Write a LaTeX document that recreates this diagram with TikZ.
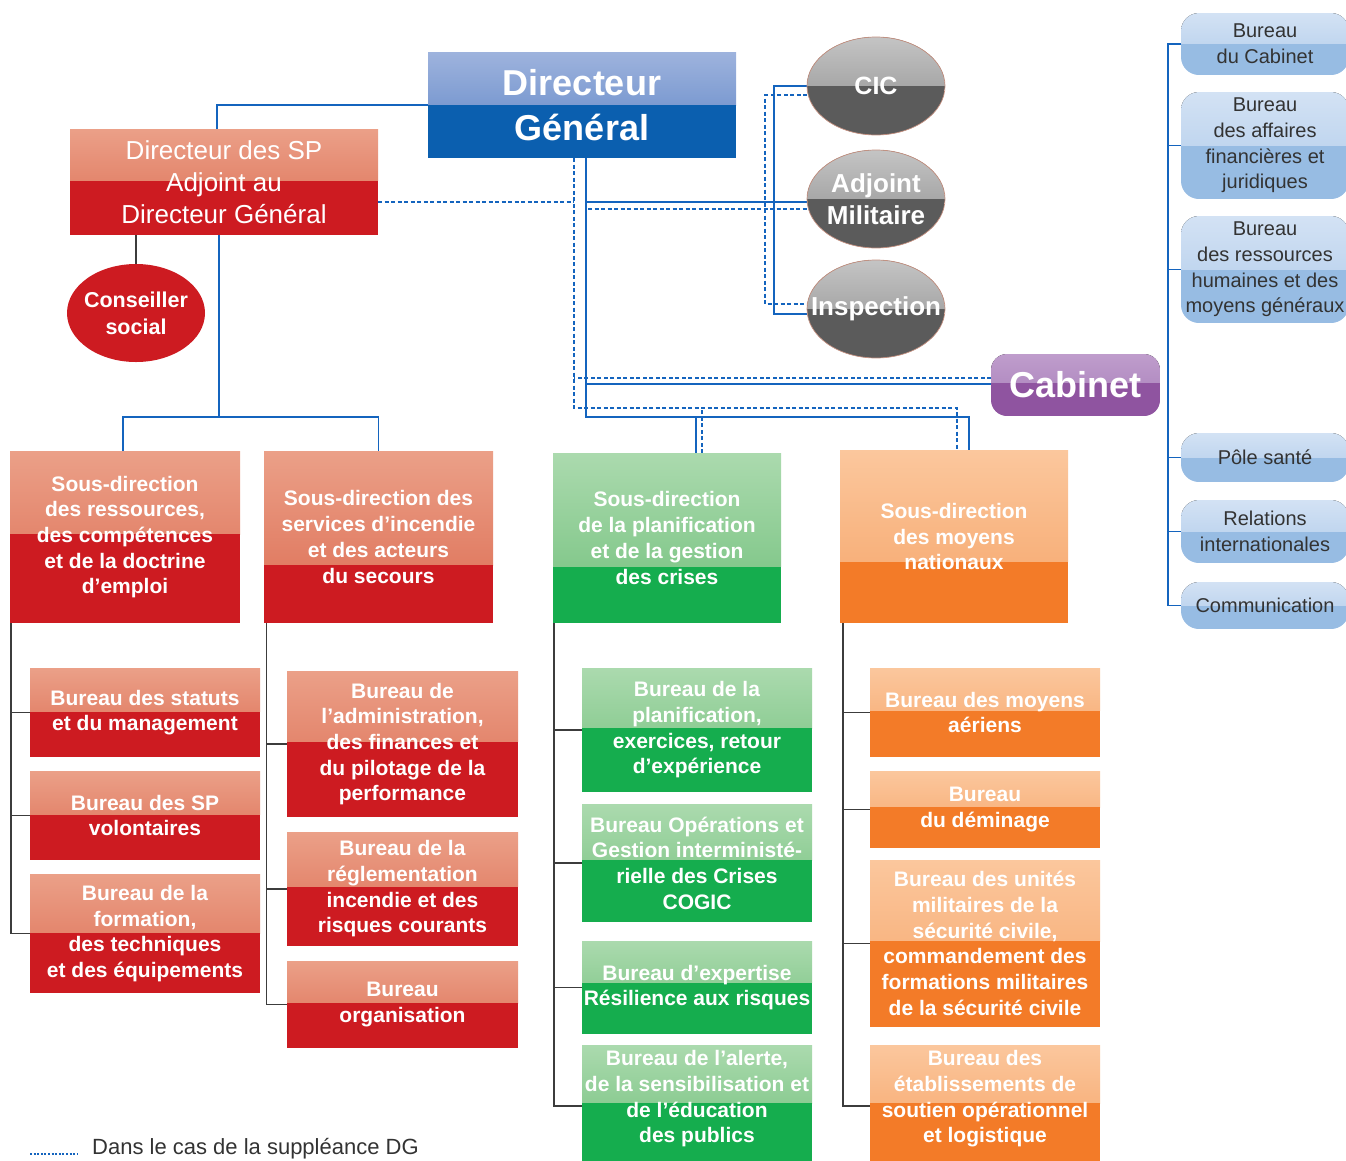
\documentclass[tikz,border=0pt]{standalone}
\usepackage{fontspec}
\setmainfont{Liberation Sans}
\usetikzlibrary{calc,shapes.geometric}
\pgfdeclarelayer{bg}
\pgfsetlayers{bg,main}
\definecolor{redT}{HTML}{EBA088}
\definecolor{redM}{HTML}{DC6B51}
\definecolor{redB}{HTML}{CD1B21}
\definecolor{greenT}{HTML}{ABDAAE}
\definecolor{greenM}{HTML}{72C07C}
\definecolor{greenB}{HTML}{15AD4E}
\definecolor{orangeT}{HTML}{FBC79D}
\definecolor{orangeM}{HTML}{F6A468}
\definecolor{orangeB}{HTML}{F37B28}
\definecolor{blueT}{HTML}{9EB3DD}
\definecolor{blueM}{HTML}{5A82C5}
\definecolor{blueB}{HTML}{0B5FAF}
\definecolor{greyT}{HTML}{C4C4C4}
\definecolor{greyM}{HTML}{8B8B8B}
\definecolor{greyB}{HTML}{5B5B5B}
\definecolor{purpleT}{HTML}{BF9DCC}
\definecolor{purpleM}{HTML}{A67CB8}
\definecolor{purpleB}{HTML}{8F54A0}
\definecolor{lightT}{HTML}{D3E2F4}
\definecolor{lightM}{HTML}{AECAEA}
\definecolor{lightB}{HTML}{97BCE3}
\definecolor{lineblue}{HTML}{1464BE}
\definecolor{linek}{HTML}{3C3C3C}
\definecolor{txtg}{HTML}{333333}
\definecolor{edgec}{HTML}{C49080}
\tikzset{
  gcut/.code={\gdef\gcut{#1}},
  scheme/.code args={#1/#2/#3}{\gdef\gT{#1}\gdef\gM{#2}\gdef\gB{#3}},
  gfill/.style={inner sep=0pt, outer sep=0pt, path picture={
    \fill[sharp corners, top color=\gT, bottom color=\gM] (path picture bounding box.north west) rectangle ($(path picture bounding box.north east)!\gcut!(path picture bounding box.south east)$);
    \fill[sharp corners, \gB] ($(path picture bounding box.north west)!\gcut!(path picture bounding box.south west)$) rectangle (path picture bounding box.south east);}},
  sred/.style={scheme=redT/redM/redB},
  sgreen/.style={scheme=greenT/greenM/greenB},
  sorange/.style={scheme=orangeT/orangeM/orangeB},
  sblue/.style={scheme=blueT/blueM/blueB},
  sgrey/.style={scheme=greyT/greyM/greyB},
  spurple/.style={scheme=purpleT/purpleM/purpleB},
  slight/.style={scheme=lightT/lightM/lightB},
}
\begin{document}
\begin{tikzpicture}[x=1pt,y=-1pt,
  bl/.style={draw=lineblue, line width=1.6pt},
  dl/.style={draw=lineblue, line width=1.3pt, dash pattern=on 4pt off 2.5pt},
  kl/.style={draw=linek, line width=1.4pt},
  bx/.style={rectangle, gfill, text=white, align=center, font=\fontsize{21}{25.7}\selectfont\bfseries},
  rbx/.style={rectangle, gfill, slight, gcut=0.5, rounded corners=18pt, minimum width=168, text=txtg, align=center, font=\fontsize{20}{25.7}\selectfont},
  gell/.style={ellipse, gfill, sgrey, gcut=0.5, draw=edgec, line width=0.7pt, minimum width=138, minimum height=98},
  etxt/.style={text=white, align=center, inner sep=0pt, font=\fontsize{26}{32}\selectfont\bfseries}
]
\useasboundingbox (0,0) rectangle (1346,1160);
\clip (0,0) rectangle (1346,1160);

% top level
\node[bx, sblue, gcut=0.5, minimum width=308, minimum height=106, font=\fontsize{36}{45}\selectfont\bfseries] (dg) at (582,105) {Directeur\\Général};
\node[bx, sred, gcut=0.49, minimum width=308, minimum height=106, font=\fontsize{26}{32}\selectfont] (dsp) at (224,182) {Directeur des SP\\Adjoint au\\Directeur Général};
\node[ellipse, fill=redB, minimum width=138, minimum height=98, inner sep=0pt] (cs) at (136,313) {};
\node[etxt, font=\fontsize{21.5}{27}\selectfont\bfseries] at (cs) {Conseiller\\social};

\node[gell] (cic) at (876,86) {};
\node[etxt, font=\fontsize{25}{30}\selectfont\bfseries] at (cic) {CIC};
\node[gell] (am) at (876,199) {};
\node[etxt] at (am) {Adjoint\\Militaire};
\node[gell] (insp) at (876,309) {};
\node[etxt] at (insp) {Inspection};

\node[bx, spurple, gcut=0.47, rounded corners=16pt, minimum width=169, minimum height=62, font=\fontsize{36}{40}\selectfont\bfseries] (cab) at (1075.5,385) {Cabinet};

% right column
\node[rbx, minimum height=62] (rb1) at (1265,44) {Bureau\\du Cabinet};
\node[rbx, minimum height=107] (rb2) at (1265,145.5) {Bureau\\des affaires\\financières et\\juridiques};
\node[rbx, minimum height=107] (rb3) at (1265,269.5) {Bureau\\des ressources\\humaines et des\\moyens généraux};
\node[rbx, minimum height=49] (rps) at (1265,457.5) {Pôle santé};
\node[rbx, minimum height=63] (rri) at (1265,531.5) {Relations\\internationales};
\node[rbx, minimum height=47] (rcom) at (1265,605.5) {Communication};

% sous-directions
\node[bx, sred, gcut=0.483, minimum width=230, minimum height=172] (sd1) at (125,537) {Sous-direction\\des ressources,\\des compétences\\et de la doctrine\\d’emploi};
\node[bx, sred, gcut=0.663, minimum width=229, minimum height=172] (sd2) at (378.5,537) {Sous-direction des\\services d’incendie\\et des acteurs\\du secours};
\node[bx, sgreen, gcut=0.67, minimum width=228, minimum height=170] (sd3) at (667,538) {Sous-direction\\de la planification\\et de la gestion\\des crises};
\node[bx, sorange, gcut=0.647, minimum width=228, minimum height=173] (sd4) at (954,536.5) {Sous-direction\\des moyens\\nationaux};

% bureaux col 1
\node[bx, sred, gcut=0.494, minimum width=230, minimum height=89] (b1a) at (145,712.5) {Bureau des statuts\\et du management};
\node[bx, sred, gcut=0.494, minimum width=230, minimum height=89] (b1b) at (145,815.5) {Bureau des SP\\volontaires};
\node[bx, sred, gcut=0.496, minimum width=230, minimum height=119] (b1c) at (145,933.5) {Bureau de la\\formation,\\des techniques\\et des équipements};
% col 2
\node[bx, sred, gcut=0.486, minimum width=231, minimum height=146] (b2a) at (402.5,744) {Bureau de\\l’administration,\\des finances et\\du pilotage de la\\performance};
\node[bx, sred, gcut=0.482, minimum width=231, minimum height=114] (b2b) at (402.5,889) {Bureau de la\\réglementation\\incendie et des\\risques courants};
\node[bx, sred, gcut=0.483, minimum width=231, minimum height=87] (b2c) at (402.5,1004.5) {Bureau\\organisation};
% col 3
\node[bx, sgreen, gcut=0.484, minimum width=230, minimum height=124] (b3a) at (697,730) {Bureau de la\\planification,\\exercices, retour\\d’expérience};
\node[bx, sgreen, gcut=0.475, minimum width=230, minimum height=118] (b3b) at (697,863) {Bureau Opérations et\\Gestion interministé-\\rielle des Crises\\COGIC};
\node[bx, sgreen, gcut=0.45, minimum width=230, minimum height=93] (b3c) at (697,987.5) {Bureau d’expertise\\Résilience aux risques};
\node[bx, sgreen, gcut=0.537, minimum width=230, minimum height=108] (b3d) at (697,1099) {Bureau de l’alerte,\\de la sensibilisation et\\de l’éducation\\des publics};
\fill[greenB] (b3d.south west) rectangle ([yshift=-14pt]b3d.south east);
% col 4
\node[bx, sorange, gcut=0.48, minimum width=230, minimum height=89] (b4a) at (985,712.5) {Bureau des moyens\\aériens};
\node[bx, sorange, gcut=0.47, minimum width=230, minimum height=77] (b4b) at (985,809.5) {Bureau\\du déminage};
\node[bx, sorange, gcut=0.485, minimum width=230, minimum height=167] (b4c) at (985,943.5) {Bureau des unités\\militaires de la\\sécurité civile,\\commandement des\\formations militaires\\de la sécurité civile};
\node[bx, sorange, gcut=0.537, minimum width=230, minimum height=108] (b4d) at (985,1099) {Bureau des\\établissements de\\soutien opérationnel\\et logistique};
\fill[orangeB] (b4d.south west) rectangle ([yshift=-14pt]b4d.south east);

% legend
\node[anchor=base west, inner sep=0pt, text=txtg, font=\fontsize{22}{26}\selectfont] (leg) at (92,1154) {Dans le cas de la suppléance DG};
\coordinate (l0) at (30,1154);
\draw[draw=lineblue, line width=1.3pt, dash pattern=on 2pt off 1.6pt] (l0) -- ++(48,0);

\begin{pgfonlayer}{bg}
% DG - DSP
\draw[bl] (dg.west) -| ([xshift=-7pt]dsp.north);
\draw[kl] ([xshift=-88pt]dsp.south) -- (cs.north);
\coordinate (j1) at (219,417);
\draw[bl] ([xshift=-5pt]dsp.south) -- (j1);
\draw[bl] ([xshift=-2pt]sd1.north) |- (j1) -| (sd2.north);
% DG solid trunk
\coordinate (t1) at (586,417);
\draw[bl] ([xshift=4pt]dg.south) -- (t1) -| ([xshift=15pt]sd4.north);
\draw[bl] ([xshift=29pt]sd3.north) -- ([xshift=29pt]sd3.north |- t1);
\draw[bl] ([xshift=4pt]dg.south) |- ([yshift=-3pt]am.west);
\draw[bl] ([xshift=4pt]dg.south) |- ([yshift=1pt]cab.west);
\coordinate (v1) at (774,202);
\draw[bl] (cic.west) -| (v1) |- ([yshift=-5pt]insp.west);
% dashed
\coordinate (d0) at (574,408);
\draw[dl] ([xshift=-8pt]dg.south) -- (d0) -| ([xshift=3pt]sd4.north);
\draw[dl] ([xshift=35pt]sd3.north) -- ([xshift=35pt]sd3.north |- d0);
\draw[dl] ([yshift=-20pt]dsp.east) -- ([yshift=-20pt]dsp.east -| d0);
\draw[dl] ([yshift=7pt]cab.west) -- ([yshift=7pt]cab.west -| d0);
\coordinate (d1) at (588,209);
\draw[dl] (d1) -- ([yshift=-10pt]am.west);
\coordinate (v2) at (765,209);
\draw[dl] ([yshift=-9pt]cic.west) -| (v2) |- ([yshift=5pt]insp.west);
% right column
\draw[bl] (rb1.west) -- ++(-13,0) |- (rcom.west);
\draw[bl] (rb2.west) -- ++(-13,0);
\draw[bl] (rb3.west) -- ++(-13,0);
\draw[bl] (rps.west) -- ++(-13,0);
\draw[bl] (rri.west) -- ++(-13,0);
% bureaux
\draw[kl] ([xshift=1pt]sd1.south west) |- (b1c.west);
\draw[kl] (b1a.west) -- ++(-19,0);
\draw[kl] (b1b.west) -- ++(-19,0);
\draw[kl] ([xshift=2.5pt]sd2.south west) |- (b2c.west);
\draw[kl] (b2a.west) -- ++(-20.5,0);
\draw[kl] (b2b.west) -- ++(-20.5,0);
\draw[kl] ([xshift=1pt]sd3.south west) |- ([yshift=-7pt]b3d.west);
\draw[kl] (b3a.west) -- ++(-28,0);
\draw[kl] (b3b.west) -- ++(-28,0);
\draw[kl] (b3c.west) -- ++(-28,0);
\draw[kl] ([xshift=3pt]sd4.south west) |- ([yshift=-7pt]b4d.west);
\draw[kl] (b4a.west) -- ++(-27,0);
\draw[kl] (b4b.west) -- ++(-27,0);
\draw[kl] (b4c.west) -- ++(-27,0);
\end{pgfonlayer}
\end{tikzpicture}
\end{document}
